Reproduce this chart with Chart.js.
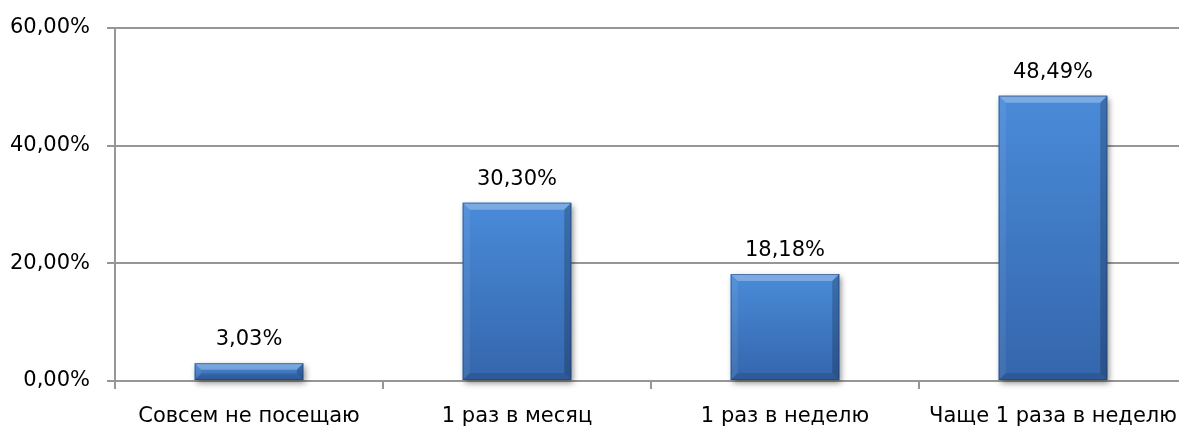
<!DOCTYPE html>
<html>
<head>
<meta charset="utf-8">
<script src="https://cdn.jsdelivr.net/npm/chart.js@4.4.1/dist/chart.umd.min.js"></script>
<style>
html,body{margin:0;padding:0;background:#fff;overflow:hidden;width:1179px;height:426px}
#wrap{position:absolute;left:0;top:0;width:1195px;height:426px}
</style>
</head>
<body>
<div id="wrap"><canvas id="c" width="1195" height="426"></canvas></div>
<script>
const categories = ['Совсем не посещаю', '1 раз в месяц', '1 раз в неделю', 'Чаще 1 раза в неделю'];
const values = [3.03, 30.30, 18.18, 48.49];
const yTicks = [0, 20, 40, 60];

const fmt = v => v.toFixed(2).replace('.', ',') + '%';
const FONT = '"DejaVu Sans", sans-serif';
const GRID = '#969696';

const barPlugin = {
  id: 'bevelBars',
  afterDatasetsDraw(chart) {
    const c = chart.ctx;
    const meta = chart.getDatasetMeta(0);
    meta.data.forEach((bar, i) => {
      const l = bar.x - bar.width / 2, r = bar.x + bar.width / 2;
      const t = bar.y, b = bar.base;
      const g = c.createLinearGradient(0, t, 0, b);
      g.addColorStop(0, '#4a8bd9');
      g.addColorStop(1, '#3466ac');
      c.save();
      c.shadowColor = 'rgba(0,0,0,0.45)';
      c.shadowBlur = 6;
      c.shadowOffsetX = 2;
      c.shadowOffsetY = 3;
      c.fillStyle = g;
      c.fillRect(l, t, r - l, b - t);
      c.restore();
      c.fillStyle = g;
      c.fillRect(l, t, r - l, b - t);
      const e = Math.min(7, (b - t) / 2.6);
      const poly = (pts, col) => {
        c.beginPath();
        c.moveTo(pts[0][0], pts[0][1]);
        for (let k = 1; k < pts.length; k++) c.lineTo(pts[k][0], pts[k][1]);
        c.closePath();
        c.fillStyle = col;
        c.fill();
      };
      poly([[l, t], [r, t], [r - e, t + e], [l + e, t + e]], 'rgba(255,255,255,0.28)');
      poly([[l, t], [l + e, t + e], [l + e, b - e], [l, b]], 'rgba(255,255,255,0.07)');
      poly([[r, t], [r, b], [r - e, b - e], [r - e, t + e]], 'rgba(0,0,0,0.2)');
      poly([[l, b], [r, b], [r - e, b - e], [l + e, b - e]], 'rgba(0,0,0,0.12)');
      c.strokeStyle = 'rgba(30,60,110,0.5)';
      c.lineWidth = 1;
      c.strokeRect(l + 0.5, t + 0.5, r - l - 1, b - t - 1);
      c.fillStyle = '#000';
      c.font = '21px ' + FONT;
      c.textAlign = 'center';
      c.textBaseline = 'alphabetic';
      c.fillText(fmt(values[i]), bar.x, t - 18);
    });
  }
};

new Chart(document.getElementById('c'), {
  type: 'bar',
  data: {
    labels: categories,
    datasets: [{
      data: values,
      backgroundColor: 'rgba(0,0,0,0)',
      borderWidth: 0,
      categoryPercentage: 1,
      barPercentage: 0.405,
      clip: false
    }]
  },
  options: {
    responsive: false,
    animation: false,
    devicePixelRatio: 1,
    layout: { padding: { top: 28, right: 8, left: 0, bottom: 0 } },
    plugins: { legend: { display: false }, tooltip: { enabled: false } },
    scales: {
      x: {
        grid: { display: true, drawOnChartArea: false, offset: true, tickLength: 8, color: GRID, lineWidth: 2 },
        border: { display: false },
        ticks: { color: '#000', font: { family: FONT, size: 21 }, padding: 15, maxRotation: 0, autoSkip: false },
        afterFit: s => { s.height = 45; }
      },
      y: {
        min: 0, max: 60,
        afterBuildTicks: s => { s.ticks = yTicks.map(v => ({ value: v })); },
        grid: { color: GRID, tickLength: 8, lineWidth: 2 },
        border: { display: true, color: GRID, width: 2 },
        ticks: { color: '#000', font: { family: FONT, size: 21 }, padding: 17, callback: v => fmt(v) },
        afterFit: s => { s.width = 115; s.paddingTop = 0; s.paddingBottom = 0; }
      }
    }
  },
  plugins: [barPlugin]
});
</script>
</body>
</html>
